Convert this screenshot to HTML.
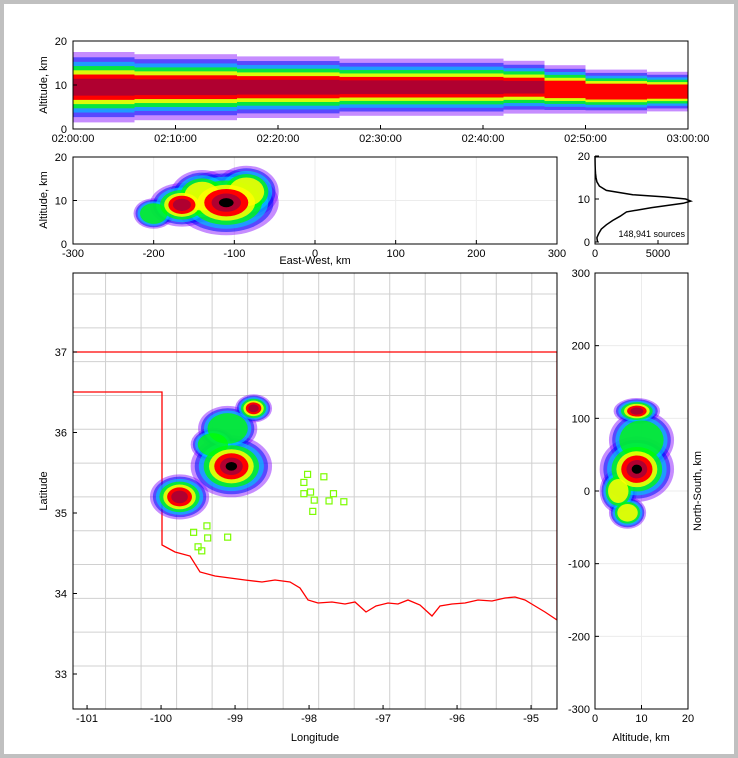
<!DOCTYPE html>
<html><head><meta charset="utf-8"><style>
html,body{margin:0;padding:0;background:#fff}
#wrap{width:738px;height:758px;position:relative;box-sizing:border-box;border:4px solid #c0c0c0;background:#fff;overflow:hidden}
svg{position:absolute;left:-4px;top:-4px}
text{font-family:"Liberation Sans","DejaVu Sans",sans-serif;fill:#000}
</style></head><body>
<div id="wrap">
<svg id="s" width="738" height="758"></svg>
</div>
<script>
// ---------- data ----------
const timeBins = [0,2,4,6,8,10,12,14,16,18,20,22,24,26,28,30,32,34,36,38,40,42,44,46,48,50,52,54,56,58];
const timeCenterAlt = [9.5,9.5,9.5,9.5,9.5,9.5,9.5,9.5,9.5,9.5,9.5,9.5,9.5,9.5,9.5,9.5,9.5,9.5,9.5,9.5,9.5,9.5,9.5,9,9,8.5,8.5,8.5,8.5,8.5];
const timeSpread = [8,8,8,7.5,7.5,7.5,7.5,7.5,7,7,7,7,7,6.5,6.5,6.5,6.5,6.5,6.5,6.5,6.5,6,6,5.5,5.5,5,5,5,4.5,4.5];
const timeIntensity = [7,7,7,7,7,7,7,7,7,7,7,7,7,7,7,7,7,7,7,7,7,7,7,6,6,6,6,6,6,6];
const mapLon = [-99.05,-98.75,-99.1,-99.75,-99.3];
const mapLat = [35.58,36.3,36.05,35.2,35.85];
const mapRadius = [0.55,0.25,0.4,0.4,0.3];
const mapIntensity = [8,7,4,7,4];
const ewKm = [-110,-165,-85,-200,-140];
const ewAlt = [9.5,9,12,7,11];
const ewHalfKm = [65,40,40,25,40];
const ewHalfAlt = [7.5,5,6,3.5,6];
const ewIntensity = [8,7,5,4,5];
const nsKm = [30,110,70,-30,0];
const nsAlt = [9,9,10,7,5];
const nsHalfKm = [45,18,40,22,30];
const nsHalfAlt = [8,5,7,4,4];
const nsIntensity = [8,7,4,5,5];
const histAlt = [0,1,2,3,4,5,6,7,8,9,9.5,10,10.5,11,12,13,14,15,16,17,18,20];
const histCount = [200,150,300,500,900,1400,2000,2500,4500,7000,7600,7200,5500,3000,900,350,150,80,40,20,10,0];
const stationLon = [-98.02,-97.98,-98.07,-97.8,-97.93,-98.07,-97.67,-97.73,-97.53,-97.95,-99.38,-99.56,-99.37,-99.1,-99.5,-99.45];
const stationLat = [35.48,35.26,35.38,35.45,35.16,35.24,35.24,35.15,35.14,35.02,34.84,34.76,34.69,34.7,34.58,34.53];
const xTickTop = ["02:00:00","02:10:00","02:20:00","02:30:00","02:40:00","02:50:00","03:00:00"];
// ---------- helpers ----------
const S=document.getElementById('s');const NS='http://www.w3.org/2000/svg';
function el(tag,attrs,parent){const e=document.createElementNS(NS,tag);for(const k in attrs)e.setAttribute(k,attrs[k]);(parent||S).appendChild(e);return e;}
function txt(x,y,str,size,anchor,parent,rot){const t=el('text',{x:x,y:y,'font-size':size,'text-anchor':anchor||'middle'},parent);if(rot)t.setAttribute('transform','rotate(-90 '+x+' '+y+')');t.textContent=str;return t;}
const levelColors=['#8000ff','#0010ff','#00c8ff','#00ff00','#ffff00','#ff0000','#b00030','#000000'];
const levelOpacity=[0.45,0.55,0.65,0.75,0.85,1,1,1];
const levelScale=[1,0.9,0.8,0.68,0.55,0.42,0.28,0.14];
const rectScale=[1,0.85,0.72,0.6,0.48,0.36,0.24,0.08];
function blobs(g,cx,cy,rx,ry,inten,rectMode){
  for(let lv=0;lv<8;lv++){for(let i=0;i<cx.length;i++){if(lv>=inten[i])continue;
    let e;
    if(rectMode){const s=rectScale[lv];e=el('rect',{x:cx[i]-rx[i],y:cy[i]-ry[i]*s,width:2*rx[i],height:2*ry[i]*s,fill:levelColors[lv],'fill-opacity':levelOpacity[lv]},g);}
    else{const s=levelScale[lv];e=el('ellipse',{cx:cx[i],cy:cy[i],rx:rx[i]*s,ry:ry[i]*s,fill:levelColors[lv],'fill-opacity':levelOpacity[lv]},g);}
    
    
  }}
}
function frame(x,y,w,h,name){const r=el('rect',{x:x,y:y,width:w,height:h,fill:'none',stroke:'#000','stroke-width':1});}
function tick(x1,y1,x2,y2){el('line',{x1:x1,y1:y1,x2:x2,y2:y2,stroke:'#000','stroke-width':1});}
const tt=txt(380,34,'Oklahoma LMA 0200-0300 UTC May 08, 2021',16);

// ---------- top: time-height ----------
const tx=m=>73+m*615/60, ty=a=>129-a*4.4;
{const g=el('g',{});
 const cx=timeBins.map(t=>tx(t+1)),cy=timeCenterAlt.map(ty),rx=timeBins.map(()=>615/60),ry=timeSpread.map(s=>s*4.4);
 blobs(g,cx,cy,rx,ry,timeIntensity,true);
 el('rect',{x:60,y:20,width:640,height:21,fill:'#fff'});el('rect',{x:60,y:129.5,width:640,height:10,fill:'#fff'});
 frame(73,41,615,88,'time-height-axes');
 [0,10,20].forEach(v=>{tick(73,ty(v),77,ty(v));txt(67,ty(v)+4,v,11,'end');});
 xTickTop.forEach((l,i)=>{const x=tx(i*10);tick(x,129,x,125);txt(x,142,l,11);});
 txt(47,85,'Altitude, km',11,'middle',null,true);}

// ---------- east-west ----------
const ex=k=>73+(k+300)*484/600, ey=a=>244-a*4.35;
{const g=el('g',{});
 [-200,-100,0,100,200].forEach(v=>el('line',{x1:ex(v),y1:157,x2:ex(v),y2:244,stroke:'#ececec'},g));
 [10].forEach(v=>el('line',{x1:73,y1:ey(v),x2:557,y2:ey(v),stroke:'#ececec'},g));
 blobs(g,ewKm.map(ex),ewAlt.map(ey),ewHalfKm.map(k=>k*484/600),ewHalfAlt.map(a=>a*4.35),ewIntensity,false);
 el('rect',{x:60,y:144,width:520,height:13,fill:'#fff'});
 frame(73,157,484,87,'east-west-axes');
 [0,10,20].forEach(v=>{tick(73,ey(v),77,ey(v));txt(67,ey(v)+4,v,11,'end');});
 [-300,-200,-100,0,100,200,300].forEach(v=>{tick(ex(v),244,ex(v),240);txt(ex(v),257,v,11);});
 txt(315,264,'East-West, km',11);
 txt(47,200,'Altitude, km',11,'middle',null,true);}

// ---------- histogram ----------
const hx=c=>595+c*63/5000, hy=a=>242-a*4.3;
{frame(595,157,93,87,'altitude-histogram-axes');
 const p=el('polyline',{points:histAlt.map((a,i)=>hx(histCount[i])+','+hy(a)).join(' '),fill:'none',stroke:'#000','stroke-width':1.5});
 
 [0,10,20].forEach(v=>{tick(595,hy(v),599,hy(v));txt(590,hy(v)+4,v,11,'end');});
 [0,5000].forEach(v=>{tick(hx(v),244,hx(v),240);txt(hx(v),257,v,11);});
 const s=txt(685,237,'148,941 sources',9,'end');}

// ---------- map ----------
const mx=lon=>73+(lon+101.19)*74, my=lat=>352-(lat-37)*80.5;
{const g=el('g',{});
 const clip=el('clipPath',{id:'mc'});el('rect',{x:73,y:273,width:484,height:436},clip);
 g.setAttribute('clip-path','url(#mc)');
 const cg=el('g',{stroke:'#d0d0d0','stroke-width':1,fill:'none',},g);
 for(let lon=-100.75;lon<=-94.6;lon+=0.48){el('line',{x1:mx(lon),y1:273,x2:mx(lon),y2:709},cg);}
 for(let lat=33.1;lat<=38;lat+=0.42){el('line',{x1:73,y1:my(lat),x2:557,y2:my(lat)},cg);}
 const red='#ff0000';
 el('polyline',{points:`73,352 557,352`,fill:'none',stroke:red,'stroke-width':1.3},g);
 el('polyline',{points:`73,392 162,392 162,545 175,552 190,556 200,572 215,576 230,578 245,580 262,582 275,580 290,582 300,588 308,600 318,603 332,602 345,604 355,602 366,612 376,606 388,603 398,604 408,600 420,605 432,616 440,606 452,604 465,603 478,600 492,601 505,598 515,597 525,600 535,606 545,612 557,620 557,352`,fill:'none',stroke:red,'stroke-width':1.3},g);
 blobs(g,mapLon.map(mx),mapLat.map(my),mapRadius.map(r=>r*74),mapRadius.map(r=>r*80.5*0.7),mapIntensity,false);
 stationLon.forEach((lo,i)=>{const r=el('rect',{x:mx(lo)-3,y:my(stationLat[i])-3,width:6,height:6,fill:'none',stroke:'#7cfc00','stroke-width':1.2},g);
   });
 frame(73,273,484,436,'map-axes');
 [-101,-100,-99,-98,-97,-96,-95].forEach(v=>{tick(mx(v),709,mx(v),705);txt(mx(v),722,v,11);});
 [37,36,35,34,33].forEach(v=>{tick(73,my(v),77,my(v));txt(67,my(v)+4,v,11,'end');});
 txt(315,741,'Longitude',11);txt(47,491,'Latitude',11,'middle',null,true);}

// ---------- north-south ----------
const nx=a=>595+a*4.65, ny=k=>491-k*0.7267;
{const g=el('g',{});
 [-200,-100,0,100,200].forEach(v=>el('line',{x1:595,y1:ny(v),x2:688,y2:ny(v),stroke:'#ececec'},g));
 el('line',{x1:nx(10),y1:273,x2:nx(10),y2:709,stroke:'#ececec'},g);
 blobs(g,nsAlt.map(nx),nsKm.map(ny),nsHalfAlt.map(a=>a*4.65),nsHalfKm.map(k=>k*0.7267),nsIntensity,false);
 frame(595,273,93,436,'north-south-axes');
 [300,200,100,0,-100,-200,-300].forEach(v=>{tick(595,ny(v),599,ny(v));txt(590,ny(v)+4,v,11,'end');});
 [0,10,20].forEach(v=>{tick(nx(v),709,nx(v),705);txt(nx(v),722,v,11);});
 txt(641,741,'Altitude, km',11);txt(701,491,'North-South, km',11,'middle',null,true);}
</script>
</body></html>
